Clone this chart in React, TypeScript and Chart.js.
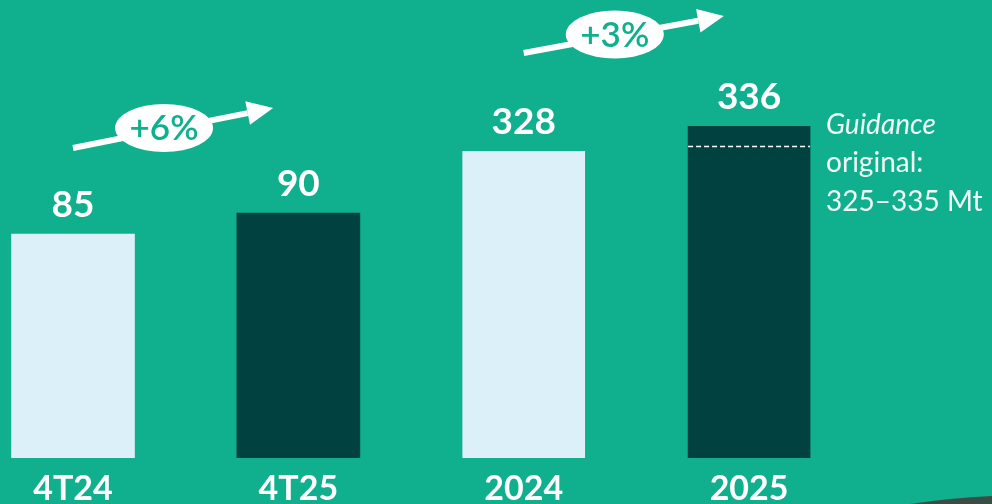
import { useEffect, useRef } from 'react';
import { Chart, registerables } from 'chart.js';

Chart.register(...registerables);

const categories = ['4T24', '4T25', '2024', '2025'];
const quarterlyValues = [85, 90];
const annualValues = [328, 336];
const growthLabels = ['+6%', '+3%'];
const guidanceLines = ['Guidance', 'original:', '325–335 Mt'];
const guidanceMid = 329.5;

const BG = '#10af8d';
const LIGHT = '#dcf0f9';
const DARK = '#014241';
const FONT = 'Lato, "Open Sans", sans-serif';

const overlayPlugin = {
  id: 'overlay',
  beforeDraw(chart: any) {
    const { ctx, width, height } = chart;
    ctx.save();
    ctx.fillStyle = BG;
    ctx.fillRect(0, 0, width, height);
    // dark swoosh of background picture, bottom right
    ctx.fillStyle = '#3d4b45';
    ctx.beginPath();
    ctx.moveTo(910, height);
    ctx.quadraticCurveTo(950, 498, width, 496);
    ctx.lineTo(width, height);
    ctx.closePath();
    ctx.fill();
    ctx.restore();
  },
  afterDatasetsDraw(chart: any) {
    const { ctx } = chart;
    const xs = chart.scales.x;
    ctx.save();
    // value labels
    ctx.fillStyle = '#ffffff';
    ctx.font = `bold 37px ${FONT}`;
    ctx.textAlign = 'center';
    ctx.textBaseline = 'alphabetic';
    chart.data.datasets.forEach((ds: any, di: number) => {
      const meta = chart.getDatasetMeta(di);
      meta.data.forEach((el: any, i: number) => {
        const v = ds.data[i].y;
        ctx.fillText(String(v), el.x, el.y - 17);
      });
    });

    // guidance dashed line on 2025 bar
    const annualMeta = chart.getDatasetMeta(1);
    const bar = annualMeta.data[1];
    const gy = chart.scales.y2.getPixelForValue(guidanceMid);
    ctx.strokeStyle = '#ffffff';
    ctx.lineWidth = 1.5;
    ctx.setLineDash([5, 3]);
    ctx.beginPath();
    ctx.moveTo(bar.x - bar.width / 2, gy);
    ctx.lineTo(bar.x + bar.width / 2, gy);
    ctx.stroke();
    ctx.setLineDash([]);

    // guidance text
    const tx = bar.x + bar.width / 2 + 16;
    ctx.textAlign = 'left';
    ctx.fillStyle = '#f2faf7';
    const baselines = [134, 172, 211];
    guidanceLines.forEach((t, i) => {
      ctx.font = `${i === 0 ? 'italic ' : ''}28px ${FONT}`;
      ctx.fillText(t, tx, baselines[i]);
    });

    // growth arrows
    const arrowY = [
      [148, 108],
      [53, 16],
    ];
    growthLabels.forEach((lbl, g) => {
      const x0 = xs.getPixelForValue(g * 2);
      const x1 = xs.getPixelForValue(g * 2 + 0.888);
      const [y0, y1] = arrowY[g];
      const ang = Math.atan2(y1 - y0, x1 - x0);
      const headLen = 26;
      const headHalf = 12;
      const bx = x1 - headLen * Math.cos(ang);
      const by = y1 - headLen * Math.sin(ang);
      ctx.strokeStyle = '#ffffff';
      ctx.fillStyle = '#ffffff';
      ctx.lineWidth = 6;
      ctx.beginPath();
      ctx.moveTo(x0, y0);
      ctx.lineTo(bx, by);
      ctx.stroke();
      ctx.beginPath();
      ctx.moveTo(x1, y1);
      ctx.lineTo(bx + headHalf * Math.sin(ang), by - headHalf * Math.cos(ang));
      ctx.lineTo(bx - headHalf * Math.sin(ang), by + headHalf * Math.cos(ang));
      ctx.closePath();
      ctx.fill();
      const cx = x0 + (x1 - x0) * 0.455;
      const cy = y0 + (y1 - y0) * 0.5;
      ctx.beginPath();
      ctx.ellipse(cx, cy, 49, 24, 0, 0, Math.PI * 2);
      ctx.fill();
      ctx.fillStyle = BG;
      ctx.font = `600 35px ${FONT}`;
      ctx.textAlign = 'center';
      ctx.textBaseline = 'middle';
      ctx.fillText(lbl, cx, cy + 1);
    });
    ctx.restore();
  },
};

export default function App() {
  const ref = useRef<HTMLCanvasElement | null>(null);
  useEffect(() => {
    if (!ref.current) return;
    const chart = new Chart(ref.current, {
      type: 'bar',
      data: {
        datasets: [
          {
            label: 'Trimestre',
            data: quarterlyValues.map((v, i) => ({ x: i, y: v })),
            backgroundColor: [LIGHT, DARK],
            yAxisID: 'y',
            grouped: false,
            barThickness: 123,
          } as any,
          {
            label: 'Ano',
            data: annualValues.map((v, i) => ({ x: i + 2, y: v })),
            backgroundColor: [LIGHT, DARK],
            yAxisID: 'y2',
            grouped: false,
            barThickness: 122,
          } as any,
        ],
      },
      options: {
        animation: false,
        responsive: true,
        maintainAspectRatio: false,
        layout: { padding: 0 },
        plugins: { legend: { display: false }, tooltip: { enabled: false } },
        scales: {
          x: {
            type: 'linear',
            min: -0.324,
            max: 4.078,
            offset: false,
            grid: { display: false, drawTicks: false },
            border: { display: false },
            afterBuildTicks: (s: any) => {
              s.ticks = categories.map((_, i) => ({ value: i }));
            },
            afterFit: (s: any) => {
              s.height = 46;
            },
            ticks: {
              autoSkip: false,
              maxRotation: 0,
              padding: 11,
              color: '#ffffff',
              font: { family: FONT, size: 34, weight: 'bold' },
              callback: (v: any) => categories[v] ?? '',
            },
          },
          y: {
            display: false,
            min: 31.7,
            max: 140.7,
          },
          y2: {
            display: false,
            min: 229.8,
            max: 376.4,
          },
        },
      } as any,
      plugins: [overlayPlugin],
    });
    return () => chart.destroy();
  }, []);
  return (
    <div style={{ position: 'fixed', left: 0, top: 0, width: 992, height: 504, background: BG }}>
      <canvas ref={ref} />
    </div>
  );
}
